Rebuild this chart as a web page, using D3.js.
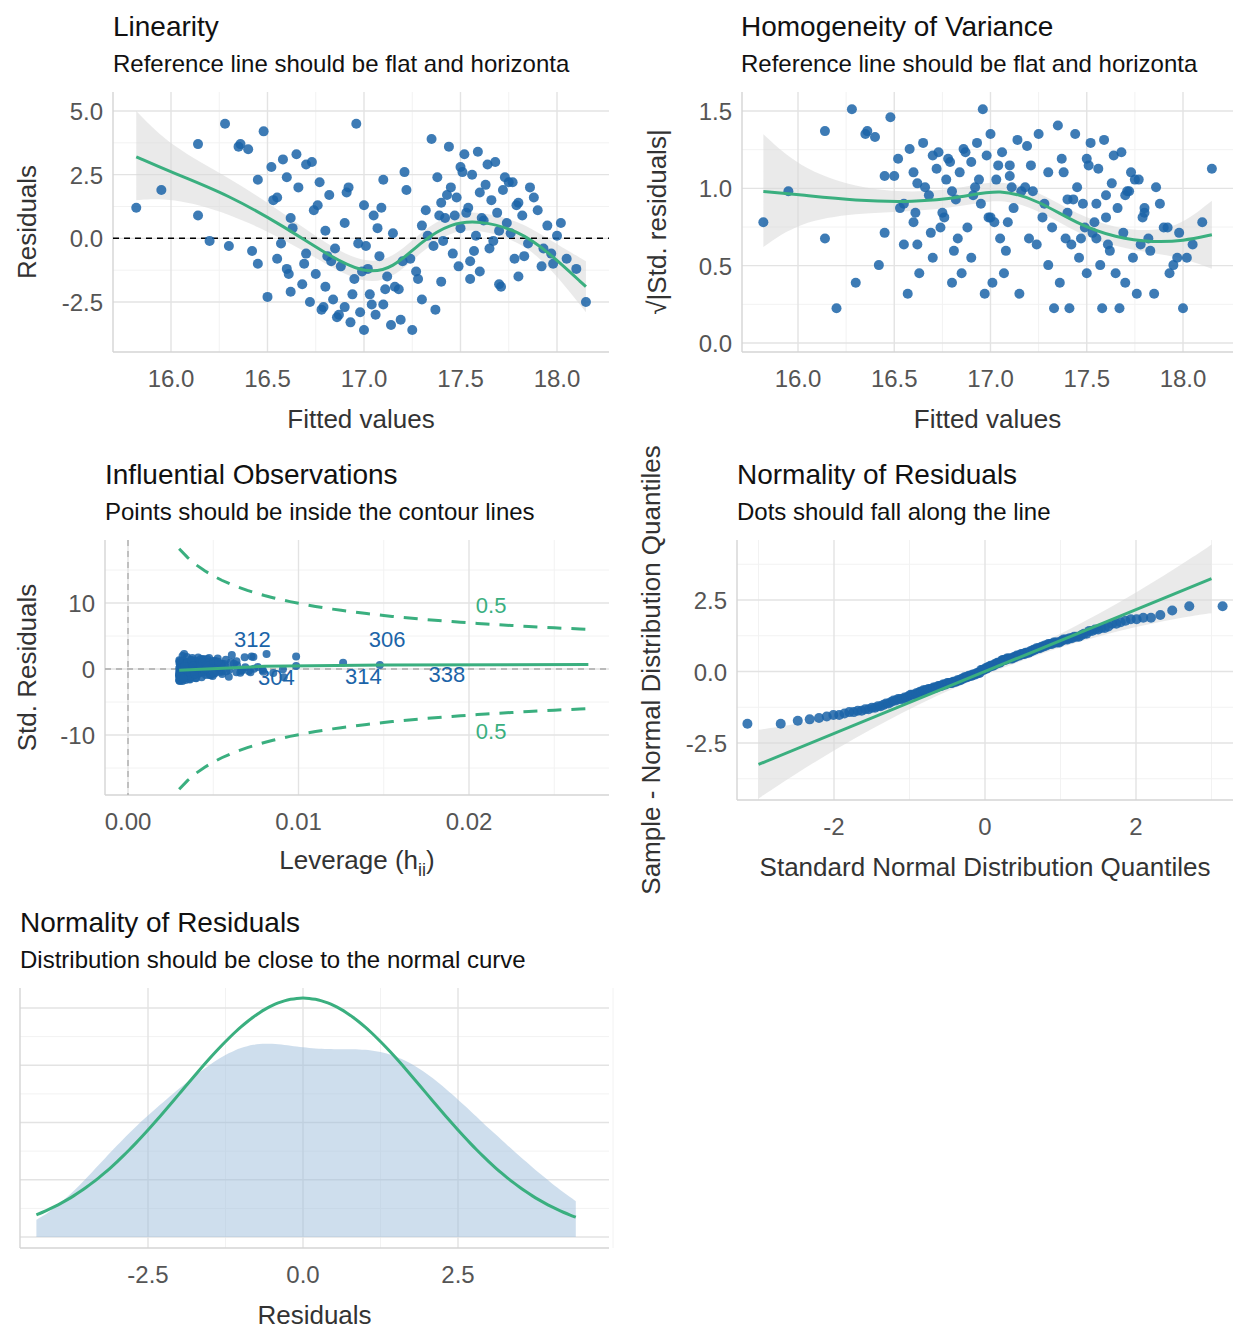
<!DOCTYPE html>
<html><head><meta charset="utf-8">
<script src="https://cdn.jsdelivr.net/npm/d3@7"></script>
<style>body{margin:0;background:#fff;font-family:"Liberation Sans",Arial,sans-serif}</style>
</head><body><svg id="c" width="1248" height="1344"></svg>
<script>
// fitted values and residuals
const fitted = [15.82,15.95,16.14,16.14,16.2,16.3,16.28,16.35,16.4,16.42,16.45,16.48,16.5,16.52,16.55,16.55,16.58,16.6,16.6,16.62,16.63,16.65,16.68,16.7,16.7,16.72,16.74,16.75,16.77,16.78,16.8,16.8,16.82,16.84,16.85,16.86,16.88,16.9,16.9,16.92,16.93,16.95,16.96,16.97,16.98,17.0,17.0,17.02,17.03,17.05,17.06,17.08,17.1,17.1,17.12,17.14,17.15,17.18,17.2,17.22,17.25,17.27,17.3,17.3,17.32,17.35,17.36,17.38,17.4,17.4,17.42,17.44,17.45,17.46,17.48,17.5,17.5,17.52,17.54,17.55,17.56,17.58,17.6,17.6,17.62,17.64,17.65,17.66,17.68,17.7,17.7,17.72,17.74,17.75,17.78,17.8,17.8,17.82,17.85,17.86,17.9,17.92,17.95,17.97,18.0,18.05,18.1,18.15,16.45,16.53,16.57,16.62,16.66,16.69,16.73,16.76,16.79,16.83,16.87,16.91,16.94,16.99,17.01,17.04,17.07,17.11,17.16,17.19,17.24,17.28,17.33,17.37,17.41,17.43,17.47,17.49,17.51,17.53,17.57,17.59,17.61,17.63,17.67,17.69,17.71,17.73,17.76,17.79,17.83,17.88,17.93,17.98,18.02,16.36,16.61,16.81,17.09,17.21,17.39,17.55,17.77];
const residuals = [1.2,1.9,0.9,3.7,-0.1,-0.3,4.5,3.6,3.5,-0.5,2.3,4.2,-2.3,2.8,-0.8,1.6,3.1,-1.2,2.4,-2.1,0.4,3.3,-1.8,2.9,-0.6,-2.5,1.1,-1.4,2.2,-2.8,0.3,-1.9,1.7,-2.4,-0.4,-3.1,-1.1,0.6,-2.7,2.0,-3.3,-1.6,4.5,-0.2,-2.9,-3.6,1.3,-1.2,-2.2,0.9,-3.0,-0.7,-2.6,2.3,-1.5,-3.4,0.2,-2.0,-0.9,1.9,-3.6,-1.3,0.5,-2.4,1.1,3.9,-0.3,2.4,1.4,-1.7,0.8,3.6,2.0,-0.6,1.6,0.4,2.8,3.3,1.2,-0.9,2.5,0.1,1.8,-1.3,0.7,2.9,-0.4,1.5,3.0,0.3,-1.8,1.9,0.6,2.2,-0.8,1.4,-1.5,0.9,-0.2,2.0,1.1,-1.1,0.5,-0.6,0.1,-0.8,-1.2,-2.5,-1.0,1.5,-0.2,0.8,2.0,-1.0,3.0,1.3,-2.7,-0.9,-3.0,1.8,-2.2,-1.3,-0.3,-2.6,0.4,-2.0,-1.9,-3.2,-0.8,-1.6,0.1,-2.8,-0.1,1.7,0.9,-1.1,2.6,1.0,-0.5,3.4,0.8,2.1,-0.1,1.0,-1.9,2.4,0.2,1.3,-0.7,1.6,-0.4,-1.0,0.6,3.7,-1.4,-0.7,1.2,2.6,0.9,-1.6,2.2,1.3,-0.6,0.2,1.5,-2.0,0.7,2.7,-1.4,0.4];
// smoothers
const linSmooth = [[15.82,3.2,1.5,5.0],[16.0,2.6,1.6,3.6],[16.3,1.7,1.0,2.4],[16.6,0.4,-0.1,0.9],[16.8,-0.6,-1.0,-0.2],[17.0,-1.4,-1.8,-1.0],[17.15,-1.2,-1.6,-0.8],[17.3,-0.1,-0.5,0.3],[17.45,0.6,0.3,1.0],[17.6,0.7,0.35,1.05],[17.8,0.3,-0.1,0.7],[17.95,-0.5,-1.0,0.0],[18.15,-1.9,-2.9,-0.9]];
const homSmooth = [[15.82,0.98,0.62,1.35],[16.0,0.96,0.78,1.14],[16.3,0.92,0.84,1.0],[16.6,0.91,0.85,0.97],[16.85,0.94,0.88,1.0],[17.05,1.0,0.94,1.06],[17.25,0.92,0.86,0.98],[17.45,0.77,0.71,0.83],[17.65,0.68,0.62,0.74],[17.85,0.65,0.58,0.72],[18.0,0.66,0.55,0.77],[18.15,0.7,0.48,0.92]];
const labelled = [["312",0.0073,4.6],["306",0.0152,4.6],["304",0.0087,-1.2],["314",0.0138,-1.0],["338",0.0187,-0.8]];

const svg = d3.select("#c");
const blue = "#1b64a8", green = "#3aaf7f";
const nObs = Math.min(fitted.length, residuals.length);
const sd = d3.deviation(residuals.slice(0,nObs));
const pts = d3.range(nObs).map(i=>({f:fitted[i], r:residuals[i], s:residuals[i]/sd}));

function panel(o){
  const g = svg.append("g");
  const x = d3.scaleLinear().domain(o.xd).range(o.xr);
  const y = d3.scaleLinear().domain(o.yd).range(o.yr);
  const [L,R] = o.px, [T,B] = o.py;
  const grid = (vals, minor, ax) => vals.forEach(v=>{
    const l = g.append("line").attr("stroke", minor?"#f2f2f2":"#e3e3e3").attr("stroke-width", minor?1:1.4);
    if(ax==="x") l.attr("x1",x(v)).attr("x2",x(v)).attr("y1",T).attr("y2",B);
    else l.attr("y1",y(v)).attr("y2",y(v)).attr("x1",L).attr("x2",R);
  });
  const xmaj=o.xt, ymaj=o.yt;
  const xmin = xmaj.slice(1).map((v,i)=>(v+xmaj[i])/2).concat(o.xminorExtra||[]);
  const ymin = ymaj.slice(1).map((v,i)=>(v+ymaj[i])/2).concat(o.yminorExtra||[]);
  grid(xmin,true,"x"); grid(ymin,true,"y");
  grid(xmaj,false,"x"); grid(ymaj,false,"y");
  g.append("line").attr("x1",L).attr("x2",L).attr("y1",T).attr("y2",B).attr("stroke","#d4d4d4").attr("stroke-width",1.4);
  g.append("line").attr("x1",L).attr("x2",R).attr("y1",B).attr("y2",B).attr("stroke","#d4d4d4").attr("stroke-width",1.4);
  xmaj.forEach(v=>g.append("text").attr("x",x(v)).attr("y",B+35).attr("text-anchor","middle").attr("fill","#555").attr("font-size",24).text(o.xf(v)));
  if(!o.noY) ymaj.forEach(v=>g.append("text").attr("x",L-10).attr("y",y(v)+9).attr("text-anchor","end").attr("fill","#555").attr("font-size",24).text(o.yf(v)));
  g.append("text").attr("x",o.tx).attr("y",o.ty).attr("font-size",28).attr("fill","#111").text(o.title);
  g.append("text").attr("x",o.tx).attr("y",o.ty+36).attr("font-size",24).attr("fill","#111").text(o.sub);
  if(o.xlab) g.append("text").attr("x",(L+R)/2).attr("y",B+76).attr("text-anchor","middle").attr("font-size",26).attr("fill","#333").text(o.xlab);
  if(o.ylab) g.append("text").attr("transform",`translate(${o.ylx},${o.yly||(T+B)/2}) rotate(-90)`).attr("text-anchor","middle").attr("font-size",26).attr("fill","#333").text(o.ylab);
  g.append("clipPath").attr("id","cp"+o.id).append("rect").attr("x",L).attr("y",T-10).attr("width",R-L+10).attr("height",B-T+10);
  const inner = g.append("g").attr("clip-path",`url(#cp${o.id})`);
  return {g:inner,outer:g,x,y};
}
function smooth(p, arr){
  p.g.append("path").attr("fill","#d9d9d9").attr("fill-opacity",0.55)
    .attr("d",d3.area().curve(d3.curveBasis).x(d=>p.x(d[0])).y0(d=>p.y(d[2])).y1(d=>p.y(d[3]))(arr));
}
function smoothLine(p, arr){
  p.g.append("path").attr("fill","none").attr("stroke",green).attr("stroke-width",3)
    .attr("d",d3.line().curve(d3.curveBasis).x(d=>p.x(d[0])).y(d=>p.y(d[1]))(arr));
}
const f1 = d3.format(".1f");
const mf = v => d3.format(".1f")(v).replace("−","-");

// Linearity
const p1 = panel({id:1,px:[113,609],py:[92,352],xd:[16,18],xr:[171,557],yd:[-2.5,5],yr:[302,111],xt:[16,16.5,17,17.5,18],yt:[-2.5,0,2.5,5],
  xf:f1,yf:mf,tx:113,ty:36,title:"Linearity",sub:"Reference line should be flat and horizonta",xlab:"Fitted values",ylab:"Residuals",ylx:36});
smooth(p1, linSmooth);
p1.g.append("line").attr("x1",113).attr("x2",609).attr("y1",p1.y(0)).attr("y2",p1.y(0)).attr("stroke","#000").attr("stroke-width",1.5).attr("stroke-dasharray","6,5");
p1.g.selectAll("circle").data(pts).join("circle").attr("cx",d=>p1.x(d.f)).attr("cy",d=>p1.y(d.r)).attr("r",5).attr("fill",blue).attr("fill-opacity",0.85);
smoothLine(p1, linSmooth);

// Homogeneity
const p2 = panel({id:2,px:[742,1233],py:[92,352],xd:[16,18],xr:[798,1183],yd:[0,1.5],yr:[343,111],xt:[16,16.5,17,17.5,18],yt:[0,0.5,1,1.5],
  xf:f1,yf:f1,tx:741,ty:36,title:"Homogeneity of Variance",sub:"Reference line should be flat and horizonta",xlab:"Fitted values",ylab:"√|Std. residuals|",ylx:666,yly:222});
smooth(p2, homSmooth);
p2.g.selectAll("circle").data(pts).join("circle").attr("cx",d=>p2.x(d.f)).attr("cy",d=>p2.y(Math.sqrt(Math.abs(d.s)))).attr("r",5).attr("fill",blue).attr("fill-opacity",0.85);
smoothLine(p2, homSmooth);

// Influential observations
const p3 = panel({id:3,px:[105,609],py:[540,795],xd:[0,0.02],xr:[128,469],yd:[-10,10],yr:[735,603],xt:[0,0.01,0.02],yt:[-10,0,10],xminorExtra:[0.025],yminorExtra:[-15,15],
  xf:d3.format(".2f"),yf:v=>d3.format("d")(v).replace("−","-"),tx:105,ty:484,title:"Influential Observations",sub:"Points should be inside the contour lines",ylab:"Std. Residuals",ylx:36});
p3.outer.append("text").attr("x",357).attr("y",869).attr("text-anchor","middle").attr("font-size",26).attr("fill","#333")
  .html('Leverage (h<tspan font-size="18" dy="7">ii</tspan><tspan dy="-7">)</tspan>');
p3.g.append("line").attr("x1",p3.x(0)).attr("x2",p3.x(0)).attr("y1",540).attr("y2",795).attr("stroke","#aaa").attr("stroke-width",1.3).attr("stroke-dasharray","6,5");
p3.g.append("line").attr("x1",105).attr("x2",609).attr("y1",p3.y(0)).attr("y2",p3.y(0)).attr("stroke","#aaa").attr("stroke-width",1.3).attr("stroke-dasharray","6,5");
const hs = d3.range(0.003,0.0271,0.0005);
[1,-1].forEach(sg=>p3.g.append("path").attr("fill","none").attr("stroke",green).attr("stroke-width",3).attr("stroke-dasharray","14,10")
  .attr("d",d3.line().x(h=>p3.x(h)).y(h=>p3.y(sg*Math.sqrt((1-h)/h)))(hs)));
p3.g.append("text").attr("x",p3.x(0.0213)).attr("y",p3.y(8.5)).attr("text-anchor","middle").attr("fill",green).attr("font-size",22).text("0.5");
p3.g.append("text").attr("x",p3.x(0.0213)).attr("y",p3.y(-10.6)).attr("text-anchor","middle").attr("fill",green).attr("font-size",22).text("0.5");
const fm = d3.mean(pts,d=>d.f);
const lev = f => 0.003 + 0.0085*Math.pow((f-fm)/1.15,2);
p3.g.selectAll("circle").data(pts).join("circle").attr("cx",d=>p3.x(lev(d.f))).attr("cy",d=>p3.y(d.s)).attr("r",4).attr("fill",blue).attr("fill-opacity",0.85);
p3.g.append("path").attr("fill","none").attr("stroke",green).attr("stroke-width",3)
  .attr("d",d3.line().x(d=>p3.x(d[0])).y(d=>p3.y(d[1]))([[0.003,-0.2],[0.008,0.4],[0.015,0.6],[0.027,0.7]]));
labelled.forEach(l=>p3.g.append("text").attr("x",p3.x(l[1])).attr("y",p3.y(l[2])+8).attr("text-anchor","middle").attr("fill",blue).attr("font-size",22).text(l[0]));

// QQ plot
const srt = pts.map(d=>d.s).sort(d3.ascending), n = srt.length;
const qn = p => { // inverse normal (Acklam approximation)
  const a=[-39.696830,220.946098,-275.928510,138.357751,-30.664798,2.506628],b=[-54.476098,161.585836,-155.698979,66.801311,-13.280681],
  c=[-0.007784894,-0.32239645,-2.400758,-2.549732,4.374664,2.938163],dd=[0.007784695,0.32246712,2.445134,3.754408];
  if(p<0.02425){const q=Math.sqrt(-2*Math.log(p));return (((((c[0]*q+c[1])*q+c[2])*q+c[3])*q+c[4])*q+c[5])/((((dd[0]*q+dd[1])*q+dd[2])*q+dd[3])*q+1);}
  if(p>1-0.02425) return -qn(1-p);
  const q=p-0.5,r=q*q;return (((((a[0]*r+a[1])*r+a[2])*r+a[3])*r+a[4])*r+a[5])*q/(((((b[0]*r+b[1])*r+b[2])*r+b[3])*r+b[4])*r+1);
};
const qq = srt.map((s,i)=>[qn((i+0.5)/n)*1.15, s]);
const p4 = panel({id:4,px:[737,1233],py:[540,800],xd:[-2,2],xr:[834,1136],yd:[-2.5,2.5],yr:[743,600],xt:[-2,0,2],yt:[-2.5,0,2.5],xminorExtra:[-3,3],yminorExtra:[-3.75,3.75],
  xf:v=>d3.format("d")(v).replace("−","-"),yf:mf,tx:737,ty:484,title:"Normality of Residuals",sub:"Dots should fall along the line",xlab:"Standard Normal Distribution Quantiles",ylab:"Sample - Normal Distribution Quantiles",ylx:660,yly:670});
const qb = d3.range(-3,3.01,0.25).map(t=>[t, t*1.08, t*1.08-0.12-0.12*t*t, t*1.08+0.12+0.12*t*t]);
smooth(p4, qb);
p4.g.selectAll("circle").data(qq).join("circle").attr("cx",d=>p4.x(d[0])).attr("cy",d=>p4.y(d[1])).attr("r",5).attr("fill",blue).attr("fill-opacity",0.85);
p4.g.append("line").attr("x1",p4.x(-3)).attr("x2",p4.x(3)).attr("y1",p4.y(-3.25)).attr("y2",p4.y(3.25)).attr("stroke",green).attr("stroke-width",3);

// Density
const res = pts.map(d=>d.r), rsd = d3.deviation(res);
const p5 = panel({id:5,px:[20,609],py:[988,1248],xd:[-2.5,2.5],xr:[148,458],yd:[0,1],yr:[1237,1008],xt:[-2.5,0,2.5],yt:[0.0,0.25,0.5,0.75,1],xminorExtra:[-5,5],noY:true,
  xf:mf,yf:f1,tx:20,ty:932,title:"Normality of Residuals",sub:"Distribution should be close to the normal curve",xlab:"Residuals"});
const xs = d3.range(-4.3,4.41,0.1), bw = 0.75;
const kde = xs.map(x=>[x, d3.mean(res,r=>Math.exp(-0.5*((x-r)/bw)**2)/(bw*Math.sqrt(2*Math.PI)))]);
const norm = xs.map(x=>[x, Math.exp(-0.5*(x/rsd)**2)/(rsd*Math.sqrt(2*Math.PI))]);
const peak = d3.max(norm,d=>d[1]);
p5.y.domain([0,peak]).range([1237,998]);
p5.g.append("path").attr("fill","#9ebedb").attr("fill-opacity",0.5)
  .attr("d",d3.area().curve(d3.curveBasis).x(d=>p5.x(d[0])).y0(p5.y(0)).y1(d=>p5.y(d[1]))(kde));
p5.g.append("path").attr("fill","none").attr("stroke",green).attr("stroke-width",3)
  .attr("d",d3.line().curve(d3.curveBasis).x(d=>p5.x(d[0])).y(d=>p5.y(d[1]))(norm));
</script></body></html>
